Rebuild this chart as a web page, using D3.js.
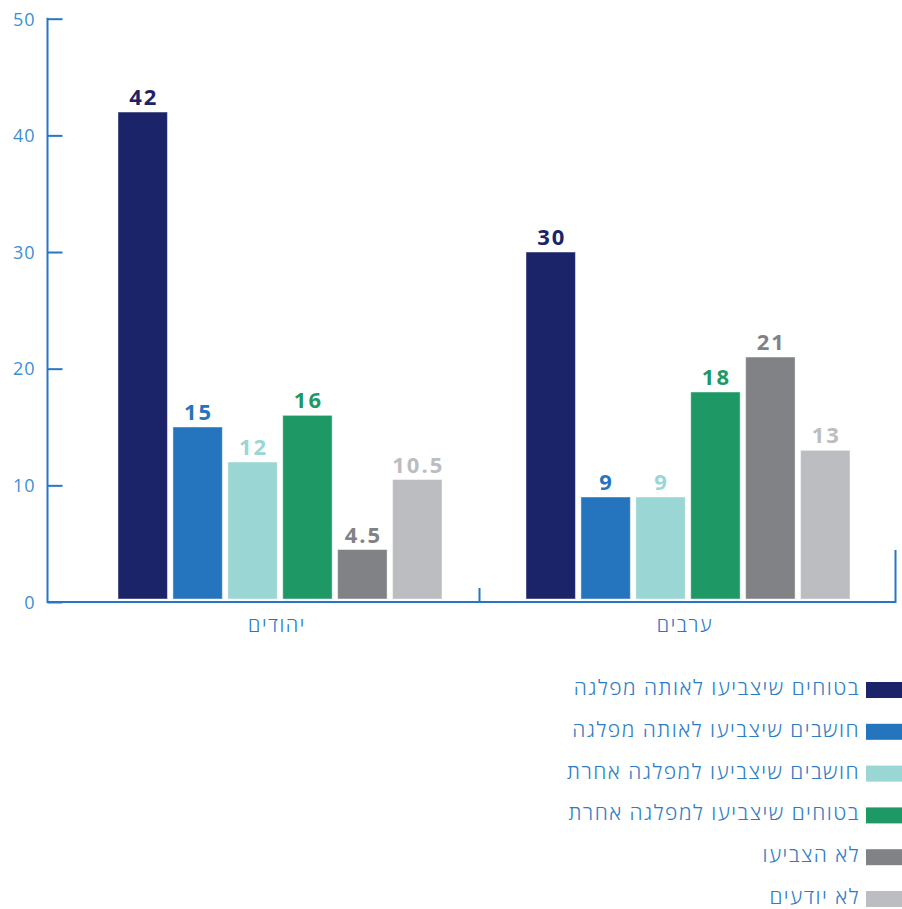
<!DOCTYPE html>
<html>
<head>
<meta charset="utf-8">
<script src="https://cdn.jsdelivr.net/npm/d3@7"></script>
<style>
  html, body { margin: 0; padding: 0; background: #fff; }
  svg { display: block; font-family: "Open Sans", "Noto Sans", sans-serif; }
</style>
</head>
<body>
<svg id="chart" width="902" height="909"></svg>
<script>
// ---- data ----
const categories = ["יהודים", "ערבים"];
const seriesNames = [
  "בטוחים שיצביעו לאותה מפלגה",
  "חושבים שיצביעו לאותה מפלגה",
  "חושבים שיצביעו למפלגה אחרת",
  "בטוחים שיצביעו למפלגה אחרת",
  "לא הצביעו",
  "לא יודעים"
];
const valuesJews = [42, 15, 12, 16, 4.5, 10.5];
const valuesArabs = [30, 9, 9, 18, 21, 13];
const seriesColors = ["#1b2369", "#2475be", "#9ad6d3", "#1e9966", "#818285", "#bcbdc0"];
const yTicks = [0, 10, 20, 30, 40, 50];

const table = [valuesJews, valuesArabs];

// ---- layout ----
const svg = d3.select("#chart");
const axisColor = "#2776c5";
const tickLabelColor = "#3d8fd3";

const y = d3.scaleLinear().domain([0, 50]).range([602, 18.7]);
const x0 = d3.scaleBand().domain(categories).range([76, 892]).padding(0);
const x1 = d3.scaleBand().domain(seriesNames).range([42, 366]).paddingInner(0.1).paddingOuter(0);
const color = d3.scaleOrdinal().domain(seriesNames).range(seriesColors);

// y axis
const yAxis = d3.axisLeft(y).tickValues(yTicks).tickSize(-15).tickSizeOuter(0).tickPadding(13);
const gy = svg.append("g").attr("transform", "translate(47.5,0)").call(yAxis);
gy.select(".domain").attr("stroke", axisColor).attr("stroke-width", 2)
  .attr("d", `M0,${y(50) - 1}V${y(0) + 1}`);
gy.selectAll(".tick line").attr("stroke", axisColor).attr("stroke-width", 2);
gy.selectAll(".tick text").attr("fill", tickLabelColor).style("font-size", "18px")
  .style("font-family", "'Open Sans', sans-serif").style("letter-spacing", "1px")
  .attr("dx", "1px").attr("dy", "0.35em");

// bars
const groups = svg.append("g").selectAll("g")
  .data(categories)
  .join("g")
  .attr("transform", d => `translate(${x0(d)},0)`);

const cells = (c, i) => seriesNames.map((s, j) => ({ s, v: table[i][j] }));

groups.selectAll("rect")
  .data(cells)
  .join("rect")
  .attr("x", d => x1(d.s))
  .attr("width", x1.bandwidth())
  .attr("y", d => y(d.v))
  .attr("height", d => y(0) - 3 - y(d.v))
  .attr("fill", d => color(d.s))
  .attr("stroke", "rgba(255,255,255,0.45)")
  .attr("stroke-width", 1);

groups.selectAll("text.val")
  .data(cells)
  .join("text")
  .attr("class", "val")
  .attr("x", d => x1(d.s) + x1.bandwidth() / 2 + 1)
  .attr("y", d => y(d.v) - 7)
  .attr("text-anchor", "middle")
  .attr("fill", d => color(d.s))
  .style("font-size", "22px")
  .style("font-weight", "700")
  .style("letter-spacing", "2px")
  .text(d => String(d.v));

// x axis
const gx = svg.append("g");
gx.append("path")
  .attr("d", `M47.5,${y(0)}H895.5M479.5,${y(0)}V${y(0) - 14}M895.5,${y(0) + 1}V${y(0) - 52}`)
  .attr("fill", "none")
  .attr("stroke", axisColor)
  .attr("stroke-width", 2);

gx.selectAll("text")
  .data(categories)
  .join("text")
  .attr("x", d => x0(d) + x0.bandwidth() / 2 - 3)
  .attr("y", 632)
  .attr("text-anchor", "middle")
  .attr("fill", axisColor)
  .style("font-size", "20px")
  .style("font-weight", "300")
  .style("letter-spacing", "1.6px")
  .text(d => d);

// legend
const legend = svg.append("g").selectAll("g")
  .data(seriesNames)
  .join("g")
  .attr("transform", (d, i) => `translate(0,${690 + i * 41.8})`);

legend.append("rect")
  .attr("x", 866)
  .attr("y", -8)
  .attr("width", 36)
  .attr("height", 16)
  .attr("fill", d => color(d));

legend.append("text")
  .attr("x", 860)
  .attr("y", 5)
  .attr("text-anchor", "end")
  .attr("fill", "#2e7cc4")
  .style("font-size", "21px")
  .style("font-weight", "300")
  .style("letter-spacing", "1.5px")
  .text(d => d);
</script>
</body>
</html>
